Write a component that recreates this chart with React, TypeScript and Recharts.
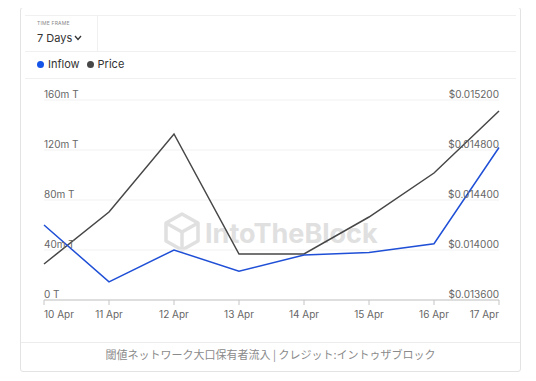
import { LineChart, Line, XAxis, YAxis, CartesianGrid } from 'recharts';

const days = ['10 Apr', '11 Apr', '12 Apr', '13 Apr', '14 Apr', '15 Apr', '16 Apr', '17 Apr'];
const inflow = [60, 14.5, 40, 23, 36, 38, 45, 122];
const price = [0.013888, 0.014304, 0.014928, 0.013968, 0.013968, 0.014264, 0.014616, 0.015112];
const inflowTicks = [0, 40, 80, 120, 160];
const priceTicks = [0.0136, 0.014, 0.0144, 0.0148, 0.0152];

const chartData = days.map((day, i) => ({ day, inflow: inflow[i], price: price[i] }));

const FONT = "Inter, 'Noto Sans', sans-serif";
const BLUE = '#1f4fd6';
const DARK = '#474747';

const LeftTick = (props: any) => {
  const { y, payload } = props;
  return (
    <text x={44} y={y - 2} fill="#666" fontSize={10} fontFamily={FONT} textAnchor="start">
      {payload.value === 0 ? '0 T' : `${payload.value}m T`}
    </text>
  );
};

const RightTick = (props: any) => {
  const { y, payload } = props;
  return (
    <text x={499} y={y - 2} fill="#666" fontSize={10} fontFamily={FONT} textAnchor="end">
      {`$${Number(payload.value).toFixed(6)}`}
    </text>
  );
};

const DayTick = (props: any) => {
  const { x, y, payload, index } = props;
  const anchor = index === 0 ? 'start' : index === days.length - 1 ? 'end' : 'middle';
  return (
    <text x={x} y={y + 11} fill="#666" fontSize={10} fontFamily={FONT} textAnchor={anchor}>
      {payload.value}
    </text>
  );
};

function Watermark() {
  return (
    <svg width={536} height={381} style={{ position: 'absolute', left: 0, top: 0 }}>
      <g fill="none" stroke="#e0e0e0" strokeWidth={3.5} strokeLinejoin="round">
        <polygon points="182,214 198,223 198,241 182,250 166,241 166,223" />
        <polyline points="166,223 182,232 198,223" />
        <line x1={182} y1={232} x2={182} y2={250} />
      </g>
      <text x={205} y={243} fill="#e0e0e0" fontSize={27} fontWeight={700} fontFamily={FONT}>
        IntoTheBlock
      </text>
    </svg>
  );
}

export default function App() {
  return (
    <div style={{ position: 'relative', width: 536, height: 381, margin: -8, background: '#fff', fontFamily: FONT, overflow: 'hidden' }}>
      <div style={{ position: 'absolute', left: 20, top: 7, width: 501, height: 365, border: '1px solid #e3e3e3', borderRadius: 3, boxSizing: 'border-box' }} />
      <div style={{ position: 'absolute', left: 25, top: 15, width: 491, borderTop: '1px solid #f0f0f0' }} />
      <div style={{ position: 'absolute', left: 25, top: 51, width: 491, borderTop: '1px solid #f0f0f0' }} />
      <div style={{ position: 'absolute', left: 25, top: 78, width: 491, borderTop: '1px solid #f0f0f0' }} />
      <div style={{ position: 'absolute', left: 97, top: 15, height: 36, borderLeft: '1px solid #f0f0f0' }} />
      <div style={{ position: 'absolute', left: 37, top: 20, fontSize: 5, color: '#888', letterSpacing: 0.2 }}>TIME FRAME</div>
      <div style={{ position: 'absolute', left: 37, top: 31, fontSize: 11, color: '#333', display: 'flex', alignItems: 'center' }}>
        7 Days
        <svg width={8} height={6} style={{ marginLeft: 2 }}>
          <polyline points="1,1 4,4.5 7,1" fill="none" stroke="#333" strokeWidth={1.3} />
        </svg>
      </div>
      <div style={{ position: 'absolute', left: 37, top: 57, fontSize: 11, color: '#333', display: 'flex', alignItems: 'center' }}>
        <span style={{ width: 7, height: 7, borderRadius: '50%', background: '#1554e8', marginRight: 4 }} />
        Inflow
        <span style={{ width: 7, height: 7, borderRadius: '50%', background: DARK, marginLeft: 7, marginRight: 4 }} />
        Price
      </div>
      <div style={{ position: 'absolute', left: 21, top: 342, width: 499, borderTop: '1px solid #ececec' }} />
      <div style={{ position: 'absolute', left: 21, top: 346, width: 499, textAlign: 'center', fontSize: 11, color: '#8a8a8a', fontFamily: "'Noto Sans CJK JP', sans-serif" }}>
        閾値ネットワーク大口保有者流入 | クレジット:イントゥザブロック
      </div>
      <Watermark />
      <div style={{ position: 'absolute', left: 0, top: 0 }}>
        <LineChart width={536} height={381} data={chartData} margin={{ top: 100, right: 36, bottom: 51, left: 43 }}>
          <CartesianGrid vertical={false} stroke="#f1f1f1" yAxisId="left" />
          <XAxis
            dataKey="day"
            stroke="#c4c4c4"
            height={30}
            tickSize={5}
            tick={<DayTick />}
            interval={0}
          />
          <YAxis yAxisId="left" width={1} domain={[0, 160]} ticks={inflowTicks} axisLine={false} tickLine={false} tick={<LeftTick />} />
          <YAxis yAxisId="right" orientation="right" width={1} domain={[0.0136, 0.0152]} ticks={priceTicks} axisLine={false} tickLine={false} tick={<RightTick />} />
          <Line yAxisId="right" dataKey="price" stroke={DARK} strokeWidth={1.5} dot={false} isAnimationActive={false} />
          <Line yAxisId="left" dataKey="inflow" stroke={BLUE} strokeWidth={1.5} dot={false} isAnimationActive={false} />
        </LineChart>
      </div>
    </div>
  );
}
